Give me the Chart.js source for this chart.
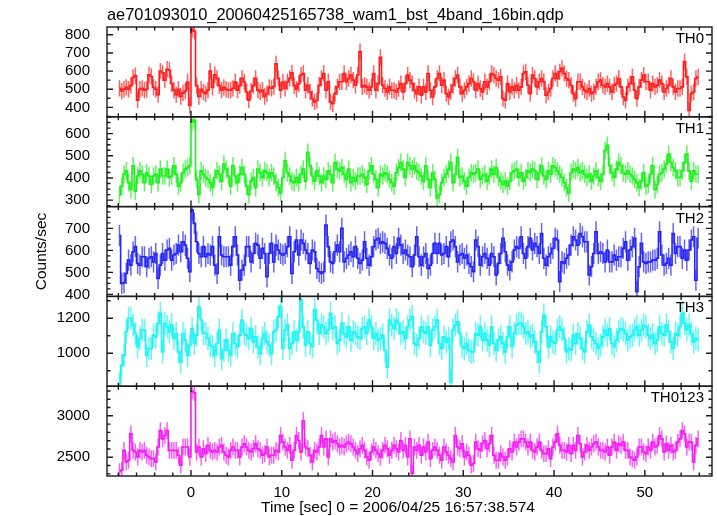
<!DOCTYPE html>
<html>
<head>
<meta charset="utf-8">
<script src="https://cdn.jsdelivr.net/npm/chart.js@4.4.1/dist/chart.umd.min.js"></script>
<style>
  html, body { margin: 0; padding: 0; background: #fff; }
  #wrap { width: 717px; height: 516px; }
</style>
</head>
<body>
<div id="wrap"><canvas id="lc" width="717" height="516"></canvas></div>
<script>
// light curve: 0.25 s bins starting at t = -8 s
const binStart = -8;
const binWidth = 0.25;

const th0Rate = [
  505, 490, 500, 510, 500, 520, 565, 575,
  440, 500, 505, 495, 500, 580, 570, 510,
  500, 470, 600, 590, 550, 610, 605, 530,
  495, 470, 500, 460, 480, 490, 540, 410,
  830, 820, 520, 460,
  500, 485, 475, 495, 600, 510, 580, 560,
  520, 495, 510, 500, 495, 495, 505, 540,
  495, 520, 560, 540, 485, 440, 490, 520,
  560, 495, 485, 495, 460, 475, 510, 505,
  515, 640, 560, 495, 540, 505, 540, 560, 590, 520, 500, 530,
  578, 587, 494, 522, 485, 448, 430, 439,
  522, 559, 587, 494, 541, 430, 420, 476,
  513, 541, 541, 587, 541, 559, 578, 550,
  522, 578, 707, 513, 522, 513, 494, 513,
  587, 494, 531, 676, 522, 504, 485, 513,
  494, 494, 485, 504, 531, 485, 531, 578,
  550, 531, 494, 476, 513, 467, 513, 485,
  587, 494, 457, 513, 559, 587, 522, 550,
  476, 457, 485, 522, 559, 578, 513, 476,
  494, 513, 531, 559, 541, 494, 531, 504,
  485, 541, 513, 541, 587, 578, 559, 550,
  568, 448, 439, 531, 485, 513, 494, 522,
  494, 513, 587, 596, 522, 476, 578, 559,
  513, 541, 559, 541, 467, 485, 504, 559,
  587, 559, 596, 615, 587, 559, 550, 522,
  476, 448, 541, 541, 513, 494, 485, 504,
  476, 485, 513, 541, 550, 522, 513, 531,
  513, 485, 522, 531, 559, 513, 457, 439,
  513, 531, 568, 494, 448, 513, 550, 578,
  541, 541, 494, 531, 513, 522, 550, 531,
  485, 504, 522, 559, 513, 485, 504, 504,
  513, 652, 568, 383, 476, 485, 559, 568
];

const th1Rate = [
  325, 363, 417, 432, 379, 348, 455, 340,
  409, 432, 417, 379, 424, 409, 371, 409,
  417, 379, 440, 409, 409, 440, 402, 409,
  455, 417, 363, 379, 424, 440, 447, 455,
  653, 661, 394, 325, 432, 417, 402, 394,
  379, 356, 402, 432, 417, 386, 463, 440,
  409, 363, 455, 409, 379, 417, 447, 417,
  363, 325, 386, 402, 356, 440, 424, 402,
  432, 424, 402, 424, 409, 379, 356, 333,
  402, 478, 424, 409, 386, 379, 402, 379,
  417, 440, 386, 516, 455, 409, 386, 432,
  409, 379, 409, 394, 432, 417, 379, 470,
  440, 432, 447, 417, 394, 440, 379, 402,
  386, 409, 409, 417, 402, 371, 432, 455,
  417, 394, 356, 417, 409, 424, 417, 394,
  379, 363, 424, 447, 470, 440, 402, 470,
  455,
  440, 455, 432, 424, 409, 386, 455, 394,
  356, 424, 394, 310, 325, 379, 402, 417,
  440, 470, 379, 417, 493, 402, 409, 386,
  363, 402, 424, 417, 424, 440, 394, 409,
  417, 386, 409, 440, 417, 447, 402, 386,
  371, 386, 363, 386, 424, 432, 440, 402,
  424, 386, 402, 432, 424, 440, 432, 394,
  424, 455, 409, 394, 432, 417, 455, 447,
  432, 417, 402, 379, 356, 333, 424, 440,
  432, 447, 424, 432, 417, 402, 417, 386,
  409, 432, 402, 386, 417, 524, 547, 455,
  424, 402, 440, 470, 455, 424, 417, 432,
  417, 409, 394, 379, 356, 386, 424, 363,
  371, 417, 455, 348, 371, 417, 424, 440,
  463, 508, 470, 447, 432, 402, 402, 432,
  470, 508, 432, 386, 432, 417, 417
];

const th2Rate = [
  667, 450, 453, 495, 556, 533, 594, 617,
  541, 533, 571, 571, 526, 564, 571, 548,
  586, 473, 533, 586, 556, 602, 609, 556,
  579, 586, 624, 594, 639, 624, 564, 503,
  783, 723, 639, 586, 571, 617, 571, 586,
  579, 617, 533, 495, 662, 579, 571, 571,
  571, 533, 617, 662, 579, 465, 511, 533,
  617, 617, 548, 586, 632, 624, 564, 609,
  586, 480, 586, 632, 548, 624, 602, 586,
  579, 586, 617, 662, 495, 594, 647, 579,
  647, 632, 602, 586, 541, 602, 594, 518,
  503, 495, 503, 715, 617, 548, 541, 594,
  624, 594, 700, 548, 564, 579, 594, 571,
  617, 564, 541, 556, 639, 564, 533, 571,
  617, 647, 655, 632, 639, 632, 609, 579,
  564, 617, 586, 655, 624, 586, 602, 579,
  571,
  526, 579, 662, 571, 533, 571, 586, 518,
  533, 586, 632, 586, 632, 579, 586, 617,
  571, 639, 647, 617, 548, 579, 586, 564,
  579, 541, 526, 503, 647, 617, 533, 571,
  586, 564, 533, 586, 571, 488, 541, 586,
  655, 594, 533, 511, 548, 602, 617, 609,
  662, 586, 564, 617, 655, 602, 632, 617,
  586, 677, 564, 533, 571, 586, 609, 655,
  647, 458, 548, 541, 564, 579, 624, 662,
  647, 624, 677, 662, 639, 639, 488, 526,
  586, 684, 586, 594, 586, 548, 602, 548,
  548, 579, 556, 571, 571, 609, 639, 556,
  602, 617, 655, 412, 526, 632, 548, 541,
  548, 548, 556, 556, 564, 684, 579, 533,
  541, 564, 533, 677, 586, 617, 617, 564,
  602, 556, 602, 647, 662, 465, 655
];

const th3Rate = [
  825, 931, 988, 1123, 1200, 1200, 1162, 1113,
  1037, 1085, 1133, 1133, 988, 1027, 1027, 1104,
  1094, 1171, 1229, 1008, 1171, 1152, 1123, 1162,
  1085, 1113, 1008, 950, 1113, 1075, 988, 1046,
  1142, 1056, 1104, 1267, 1190, 1113, 1113, 1085,
  1046, 1037, 988, 1056, 1133, 969, 1017, 1075,
  1017, 988, 1113, 1056, 1037, 1104, 1190, 1113,
  1104, 1085, 1142, 1065, 1094, 1037, 998, 1085,
  1113, 1065, 1046, 998, 1123, 1133, 1210, 1267,
  1027, 1133, 1162, 1027, 1056, 1123, 1075, 1123,
  1306, 1152, 1046, 1123, 1056, 1037, 1248, 1190,
  1113, 1162, 1152, 1113, 1133, 1229, 1142, 1152,
  1056, 1075, 1171, 1113, 1094, 1152, 1075, 1123,
  1113, 1094, 1085, 1142, 1152, 1113, 1190, 1152,
  1085, 1113, 1075, 1085, 1104, 1017, 921, 1190,
  1162, 1142, 1190, 1171, 1113, 1123, 1085, 1152,
  1190,
  1210, 1056, 1046, 1085, 1152, 1123, 1113, 1152,
  1046, 1133, 1152, 1190, 1056, 1027, 1094, 1065,
  1085, 834, 1133, 1162, 1181, 1113, 1037, 1027,
  1056, 1017, 1008, 1008, 1113, 1104, 1152, 1075,
  1113, 1075, 1046, 1152, 1056, 1017, 1075, 1094,
  1056, 1008, 1094, 1152, 1037, 1113, 1162, 1171,
  1171, 1152, 1113, 1123, 1094, 1104, 1065, 1008,
  950, 1123, 1219, 1152, 1037, 1094, 1065, 1056,
  1133, 1152, 1133, 1085, 1008, 1027, 1017, 1104,
  1056, 1113, 1085, 1027, 1008, 1123, 1162, 1094,
  1075, 1056, 1027, 1046, 1094, 1133, 1104, 1142,
  1056, 1037, 1075, 1123, 1142, 1133, 1113, 1075,
  1094, 1104, 1133, 1152, 1104, 1133, 1162, 1152,
  1104, 1085, 1104, 1056, 1075, 1152, 1113, 1104,
  1162, 1123, 1065, 1027, 1113, 1104, 1152, 1229,
  1171, 1133, 1162, 1113, 1065, 1085, 1075
];

const th0123Rate = [
  2325, 2345, 2583, 2444, 2464, 2782, 2583, 2563,
  2504, 2583, 2563, 2583, 2524, 2504, 2484, 2484,
  2444, 2623, 2821, 2722, 2762, 2821, 2583, 2583,
  2583, 2583, 2524, 2405, 2623, 2623, 2623, 2504,
  3298, 3278, 2563, 2623, 2504, 2603, 2544, 2643,
  2583, 2563, 2583, 2563, 2623, 2643, 2563, 2524,
  2504, 2583, 2623, 2583, 2583, 2504, 2623, 2663,
  2623, 2583, 2563, 2603, 2663, 2603, 2583, 2524,
  2544, 2623, 2504, 2524, 2524, 2583, 2563, 2762,
  2683, 2623, 2583, 2643, 2464, 2583, 2762, 2702,
  2563, 2940, 2623, 2603, 2524, 2444, 2583, 2563,
  2623, 2762, 2623, 2722, 2504, 2722, 2683, 2702,
  2663, 2623, 2643, 2623, 2663, 2683,
  2663, 2623, 2583, 2544, 2603, 2643, 2583, 2504,
  2464, 2563, 2623, 2583, 2544, 2504, 2583, 2643,
  2603, 2524, 2583, 2643, 2603, 2563,
  2702, 2583, 2643, 2504, 2722, 2306, 2623, 2583,
  2643, 2524, 2623, 2563, 2683, 2484, 2583, 2623,
  2583, 2524, 2464, 2623, 2563, 2524, 2484, 2444,
  2762, 2623, 2603, 2663, 2504, 2563, 2524, 2405,
  2425, 2683, 2603, 2583, 2663, 2702, 2603, 2663,
  2762, 2524, 2464, 2464, 2544, 2504, 2464, 2504,
  2603, 2563, 2683, 2623, 2683, 2722, 2722, 2683,
  2623, 2683, 2583, 2563, 2623, 2683, 2583, 2544,
  2544, 2603, 2484, 2623, 2683, 2782, 2643, 2583,
  2583, 2563, 2643, 2544, 2643, 2583, 2762, 2663,
  2504, 2563, 2643, 2583, 2623, 2663, 2683, 2623,
  2583, 2583, 2563, 2623, 2524, 2623, 2683, 2583,
  2663, 2643, 2683, 2583, 2583, 2504, 2484, 2464,
  2504, 2623, 2623, 2563, 2544, 2623, 2583, 2683,
  2623, 2643, 2762, 2722, 2563, 2663, 2583, 2643,
  2563, 2583, 2683, 2722, 2821, 2782, 2623, 2683,
  2683, 2444, 2643, 2722
];

const bandNames = ['TH0', 'TH1', 'TH2', 'TH3', 'TH0123'];
const bandRates = [th0Rate, th1Rate, th2Rate, th3Rate, th0123Rate];
const bandErr = [45, 40, 48, 66, 102];          // typical 1-sigma half length
const bandMin = [348, 271, 391, 812, 2274];
const bandMax = [843, 676, 799, 1325, 3357];
const bandTicks = [
  [400, 500, 600, 700, 800],
  [300, 400, 500, 600],
  [400, 500, 600, 700],
  [1000, 1200],
  [2500, 3000]
];
const bandMajor = [100, 100, 100, 200, 500];
const bandMinor = [50, 25, 25, 100, 100];
const timeTicks = [0, 10, 20, 30, 40, 50];
const bandColors = ['#ff1c1c', '#1cf01c', '#2424f4', '#1cf4f4', '#f41cf4'];

const FONT = 'Liberation Sans, Arial, sans-serif';

function binTimes(n) {
  const t = [];
  for (let i = 0; i < n; i++) t.push(binStart + binWidth * (i + 0.5));
  return t;
}

function withAlpha(hex, a) {
  const r = parseInt(hex.slice(1, 3), 16), g = parseInt(hex.slice(3, 5), 16), b = parseInt(hex.slice(5, 7), 16);
  return `rgba(${r},${g},${b},${a})`;
}

const datasets = bandRates.map((rates, k) => {
  const t = binTimes(rates.length);
  return {
    label: bandNames[k],
    data: rates.map((v, i) => ({ x: t[i], y: v })),
    yAxisID: 'y' + k,
    borderColor: bandColors[k],
    borderWidth: 1.6,
    pointRadius: 0,
    stepped: 'middle',
    fill: false
  };
});

const scales = {
  x: {
    type: 'linear',
    min: -9.25,
    max: 57.4,
    grid: { display: false },
    border: { display: false },
    ticks: {
      autoSkip: false,
      padding: 0,
      maxRotation: 0,
      color: '#000',
      font: { family: FONT, size: 15 },
      callback: v => String(v)
    },
    afterBuildTicks: s => { s.ticks = timeTicks.map(v => ({ value: v })); },
    afterFit: s => { s.height = 40; }
  }
};
bandNames.forEach((name, k) => {
  scales['y' + k] = {
    type: 'linear',
    position: 'left',
    stack: 'bands',
    stackWeight: 1,
    weight: bandNames.length - k,
    offset: false,
    min: bandMin[k],
    max: bandMax[k],
    grid: { display: false },
    border: { display: false },
    ticks: {
      autoSkip: false,
      padding: 9,
      color: '#000',
      font: { family: FONT, size: 15 },
      callback: v => String(v)
    },
    afterBuildTicks: s => { s.ticks = bandTicks[k].map(v => ({ value: v })); },
    afterFit: s => { s.width = 50; }
  };
});

// error bars, panel frames, inward ticks and text
const qdpDecor = {
  id: 'qdpDecor',
  beforeDatasetsDraw(chart) {
    const ctx = chart.ctx, area = chart.chartArea, xs = chart.scales.x;
    chart.data.datasets.forEach((ds, k) => {
      const ys = chart.scales['y' + k];
      ctx.save();
      ctx.beginPath();
      ctx.rect(area.left, ys.top, area.right - area.left, ys.bottom - ys.top);
      ctx.clip();
      ctx.strokeStyle = withAlpha(bandColors[k], 0.7);
      ctx.lineWidth = 1.5;
      ctx.beginPath();
      ds.data.forEach(p => {
        const px = xs.getPixelForValue(p.x);
        ctx.moveTo(px, ys.getPixelForValue(p.y - bandErr[k]));
        ctx.lineTo(px, ys.getPixelForValue(p.y + bandErr[k]));
      });
      ctx.stroke();
      ctx.restore();
    });
  },
  afterDatasetsDraw(chart) {
    const ctx = chart.ctx, area = chart.chartArea, xs = chart.scales.x;
    ctx.save();
    ctx.strokeStyle = '#1a1a1a';
    ctx.lineWidth = 1.4;
    bandNames.forEach((name, k) => {
      const ys = chart.scales['y' + k];
      const top = ys.top, bottom = ys.bottom;
      ctx.strokeRect(area.left, top, area.right - area.left, bottom - top);
      ctx.beginPath();
      for (let t = Math.ceil(xs.min / 2) * 2; t <= xs.max; t += 2) {
        const px = xs.getPixelForValue(t);
        const len = t % 10 === 0 ? 6 : 3.5;
        ctx.moveTo(px, top); ctx.lineTo(px, top + len);
        ctx.moveTo(px, bottom); ctx.lineTo(px, bottom - len);
      }
      const step = bandMinor[k];
      for (let v = Math.ceil(ys.min / step) * step; v <= ys.max; v += step) {
        const py = ys.getPixelForValue(v);
        const len = v % bandMajor[k] === 0 ? 6 : 3.5;
        ctx.moveTo(area.left, py); ctx.lineTo(area.left + len, py);
        ctx.moveTo(area.right, py); ctx.lineTo(area.right - len, py);
      }
      ctx.stroke();
      ctx.fillStyle = '#000';
      ctx.font = '15px ' + FONT;
      ctx.textAlign = 'right';
      ctx.textBaseline = 'alphabetic';
      ctx.fillText(name, area.right - 8, top + 16);
    });
    ctx.fillStyle = '#000';
    ctx.font = '16.4px ' + FONT;
    ctx.textAlign = 'left';
    ctx.textBaseline = 'alphabetic';
    ctx.fillText('ae701093010_20060425165738_wam1_bst_4band_16bin.qdp', area.left, 20);
    ctx.font = '15.5px ' + FONT;
    ctx.textAlign = 'center';
    ctx.fillText('Time [sec] 0 = 2006/04/25 16:57:38.574', 398, 512);
    ctx.translate(46, (area.top + area.bottom) / 2);
    ctx.rotate(-Math.PI / 2);
    ctx.fillText('Counts/sec', 0, 0);
    ctx.restore();
  }
};

new Chart(document.getElementById('lc'), {
  type: 'line',
  data: { datasets },
  options: {
    responsive: false,
    animation: false,
    events: [],
    layout: { padding: { left: 57, right: 5, top: 27, bottom: 0 } },
    plugins: { legend: { display: false }, tooltip: { enabled: false } },
    scales
  },
  plugins: [qdpDecor]
});
</script>
</body>
</html>
